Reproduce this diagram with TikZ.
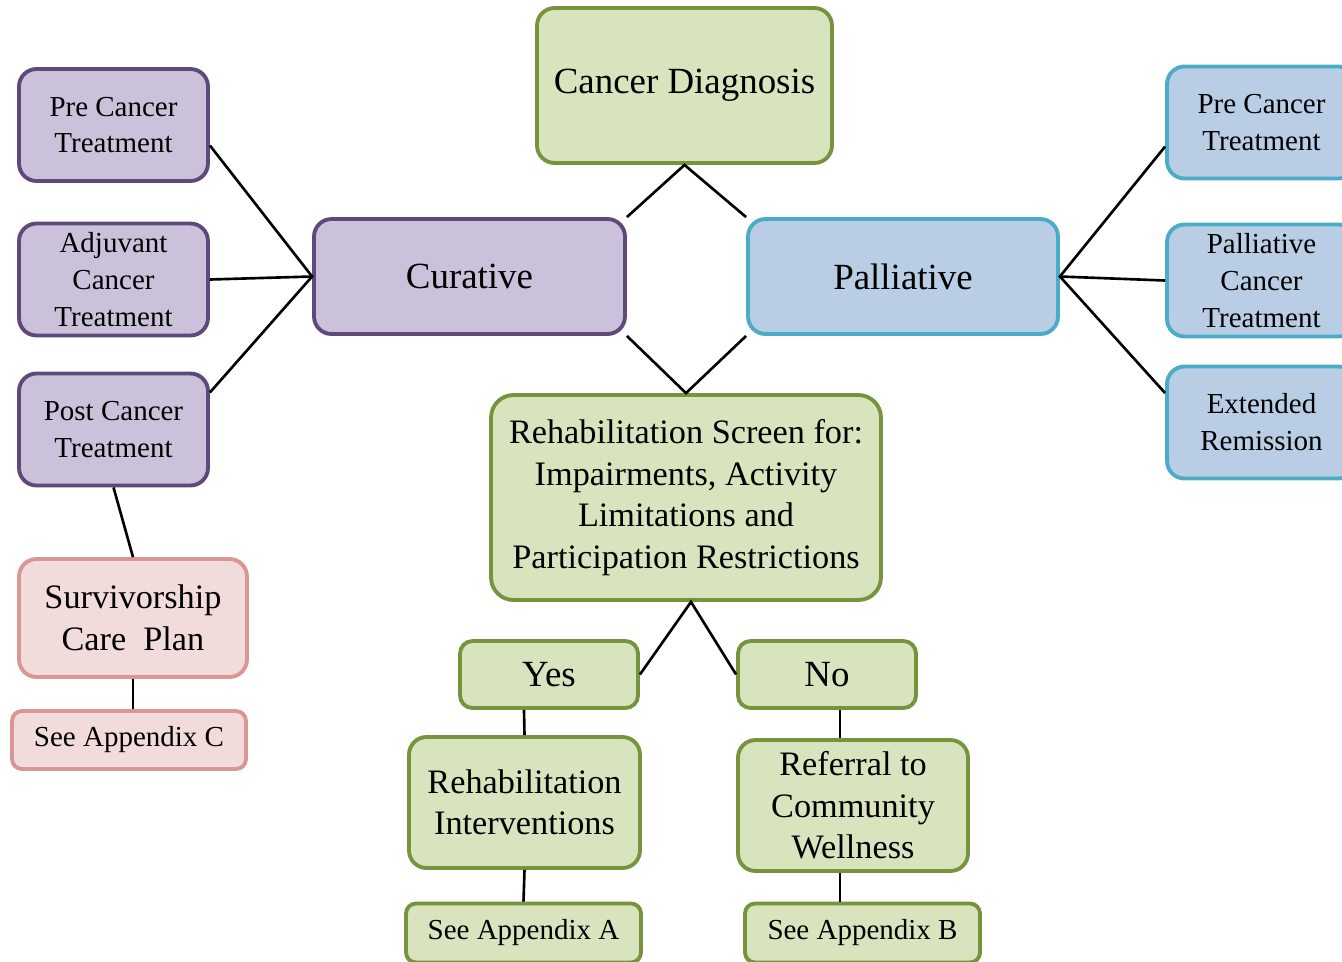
\documentclass[tikz,border=0pt]{standalone}
\usepackage{fontspec}
\setmainfont{Liberation Serif}
\usetikzlibrary{positioning,calc}

\definecolor{curfill}{HTML}{CCC1DA}
\definecolor{curline}{HTML}{5F497A}
\definecolor{palfill}{HTML}{B9CDE5}
\definecolor{palline}{HTML}{4BACC6}
\definecolor{rehfill}{HTML}{D7E4BD}
\definecolor{rehline}{HTML}{77933C}
\definecolor{survfill}{HTML}{F2DCDB}
\definecolor{survline}{HTML}{D99694}

\begin{document}
\begin{tikzpicture}[
    x=0.02cm, y=-0.02cm,
    every node/.style={
        rounded corners=0.35cm,
        line width=2.2pt,
        inner sep=0pt,
        align=center
    },
    cur/.style={draw=curline, fill=curfill},
    pal/.style={draw=palline, fill=palfill},
    reh/.style={draw=rehline, fill=rehfill},
    surv/.style={draw=survline, fill=survfill},
    big/.style={font=\fontsize{21}{25}\selectfont},
    mid/.style={font=\fontsize{19.5}{23.6}\selectfont},
    sml/.style={font=\fontsize{16.5}{21}\selectfont},
    apx/.style={sml, rounded corners=0.2cm, minimum width=4.7cm, minimum height=1.18cm},
    side/.style={sml, minimum width=3.78cm, minimum height=2.24cm},
    link/.style={line width=1.5pt}
]
\useasboundingbox (0,0) rectangle (1342,961);

% top row
\node[reh,big,minimum width=5.9cm,minimum height=3.1cm] (diag) at (684.5,85.5) {Cancer Diagnosis};
\node[cur,big,minimum width=6.22cm,minimum height=2.3cm] (cur) at (469.5,276.5) {Curative};
\node[pal,big,minimum width=6.2cm,minimum height=2.3cm] (pal) at (903,276.5) {Palliative};

% curative side
\node[cur,side] (lpre) at (113.5,125) {Pre Cancer\\Treatment};
\node[cur,side] (ladj) at (113.5,279.5) {Adjuvant\\Cancer\\Treatment};
\node[cur,side] (lpost) at (113.5,429.5) {Post Cancer\\Treatment};
\node[surv,mid,minimum width=4.56cm,minimum height=2.36cm] (surv) at (133,618) {Survivorship\\Care~ Plan};
\node[surv,apx,minimum width=4.68cm,minimum height=1.16cm] (apc) at (129,740) {See Appendix C};

% palliative side
\node[pal,side] (rpre) at (1261.5,122.5) {Pre Cancer\\Treatment};
\node[pal,side] (rpal) at (1261.5,280.5) {Palliative\\Cancer\\Treatment};
\node[pal,side] (rext) at (1261.5,422.5) {Extended\\Remission};

% rehab screen
\node[reh,mid,rounded corners=0.45cm,minimum width=7.8cm,minimum height=4.1cm] (scr) at (686,497.5)
    {Rehabilitation Screen for:\\Impairments, Activity\\Limitations and\\Participation Restrictions};
\node[reh,big,rounded corners=0.25cm,minimum width=3.56cm,minimum height=1.34cm] (yes) at (549,674.5) {Yes};
\node[reh,big,rounded corners=0.25cm,minimum width=3.56cm,minimum height=1.34cm] (no) at (827,674.5) {No};
\node[reh,mid,minimum width=4.62cm,minimum height=2.62cm] (rint) at (524.5,802.5) {Rehabilitation\\Interventions};
\node[reh,mid,minimum width=4.6cm,minimum height=2.62cm] (ref) at (853,805.5) {Referral to\\Community\\Wellness};
\node[reh,apx] (apa) at (523.5,933) {See Appendix A};
\node[reh,apx] (apb) at (862.5,933) {See Appendix B};

% connectors
\draw[link] (cur.north east) -- (diag.south) -- (pal.north west);
\draw[link] (cur.south east) -- (scr.north) -- (pal.south west);
\draw[link] (lpre.-12) -- (cur.west) -- (lpost.21);
\draw[link] (ladj.east) -- (cur.west);
\draw[link] (rpre.194.5) -- (pal.east) -- (rext.163);
\draw[link] (rpal.west) -- (pal.east);
\draw[link] (lpost.south) -- (surv.north);
\draw[link] (surv.south) -- (surv.south |- apc.north);
\draw[link] (yes.east) -- ($(scr.south)+(5,0)$) -- (no.west);
\draw[link] ($(yes.south)+(-25,0)$) -- (rint.north);
\draw[link] ($(no.south)+(13,0)$) -- ($(ref.north)+(-13,0)$);
\draw[link] (rint.south) -- (apa.north);
\draw[link] ($(ref.south)+(-13,0)$) -- ($(apb.north)+(-22.5,0)$);
\end{tikzpicture}
\end{document}
